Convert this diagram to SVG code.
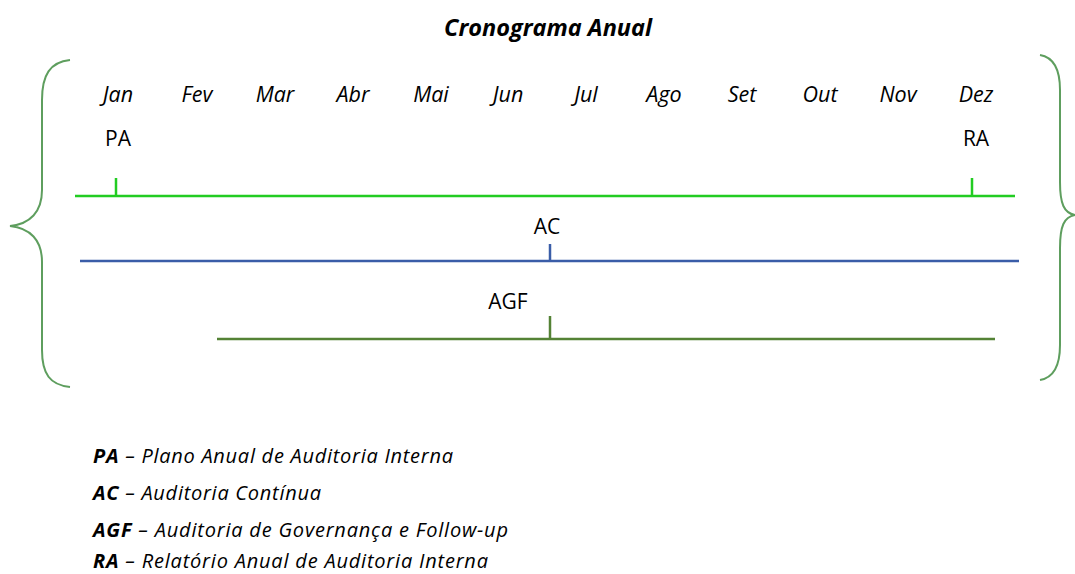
<svg xmlns="http://www.w3.org/2000/svg" width="1075" height="574" viewBox="0 0 1075 574">
<style>
text{font-family:"Open Sans","Liberation Sans",sans-serif;fill:#000}
.m{font-size:21.5px;font-style:italic;text-anchor:middle}
.l{font-size:21px;text-anchor:middle}
.lg{font-size:20px;font-style:italic}
.b{font-weight:bold}
.brace{fill:none;stroke:#5E9E5E;stroke-width:2}
.t{font-size:23.5px;font-weight:bold;font-style:italic;text-anchor:middle}
</style>
<rect width="1075" height="574" fill="#fff"/>
<text class="t" x="548" y="36">Cronograma Anual</text>
<g id="braces">
<path class="brace" d="M70,60 C50,62 42,75 42,100 L42,190 C42,212 30,224 10,226 C30,228 42,240 42,262 L42,350 C42,374 50,385 70,387"/>
<path class="brace" d="M1040,55 C1052,57 1060,68 1060,90 L1060,182 C1060,204 1064,213 1075,215 C1064,217 1060,226 1060,248 L1060,345 C1060,367 1052,378 1040,380"/>
</g>
<g id="months">
<text class="m" x="118" y="102">Jan</text>
<text class="m" x="197" y="102">Fev</text>
<text class="m" x="275" y="102">Mar</text>
<text class="m" x="353" y="102">Abr</text>
<text class="m" x="431" y="102">Mai</text>
<text class="m" x="508" y="102">Jun</text>
<text class="m" x="586" y="102">Jul</text>
<text class="m" x="664" y="102">Ago</text>
<text class="m" x="742" y="102">Set</text>
<text class="m" x="820" y="102">Out</text>
<text class="m" x="898" y="102">Nov</text>
<text class="m" x="976" y="102">Dez</text>
</g>
<g id="connectors">
<line x1="75" y1="196" x2="1015" y2="196" stroke="#22CC22" stroke-width="2.5"/>
<line x1="116" y1="178" x2="116" y2="196" stroke="#22CC22" stroke-width="2.5"/>
<line x1="972" y1="178" x2="972" y2="196" stroke="#22CC22" stroke-width="2.5"/>
<line x1="80" y1="261" x2="1019" y2="261" stroke="#3A5DA8" stroke-width="2.5"/>
<line x1="550" y1="244" x2="550" y2="261" stroke="#3A5DA8" stroke-width="2.5"/>
<line x1="217" y1="339" x2="995" y2="339" stroke="#548235" stroke-width="2.5"/>
<line x1="550" y1="316" x2="550" y2="339" stroke="#548235" stroke-width="2.5"/>
</g>
<g id="PA"><text class="l" x="118" y="146">PA</text></g>
<g id="RA"><text class="l" x="976" y="146">RA</text></g>
<g id="AC"><text class="l" x="547" y="234">AC</text></g>
<g id="AGF"><text class="l" x="508" y="309">AGF</text></g>
<g id="legend">
<text class="lg" x="93" y="463" textLength="360" lengthAdjust="spacing"><tspan class="b">PA</tspan> – Plano Anual de Auditoria Interna</text>
<text class="lg" x="93" y="500" textLength="228" lengthAdjust="spacing"><tspan class="b">AC</tspan> – Auditoria Contínua</text>
<text class="lg" x="93" y="537" textLength="415" lengthAdjust="spacing"><tspan class="b">AGF</tspan> – Auditoria de Governança e Follow-up</text>
<text class="lg" x="93" y="568" textLength="395" lengthAdjust="spacing"><tspan class="b">RA</tspan> – Relatório Anual de Auditoria Interna</text>
</g>
</svg>
